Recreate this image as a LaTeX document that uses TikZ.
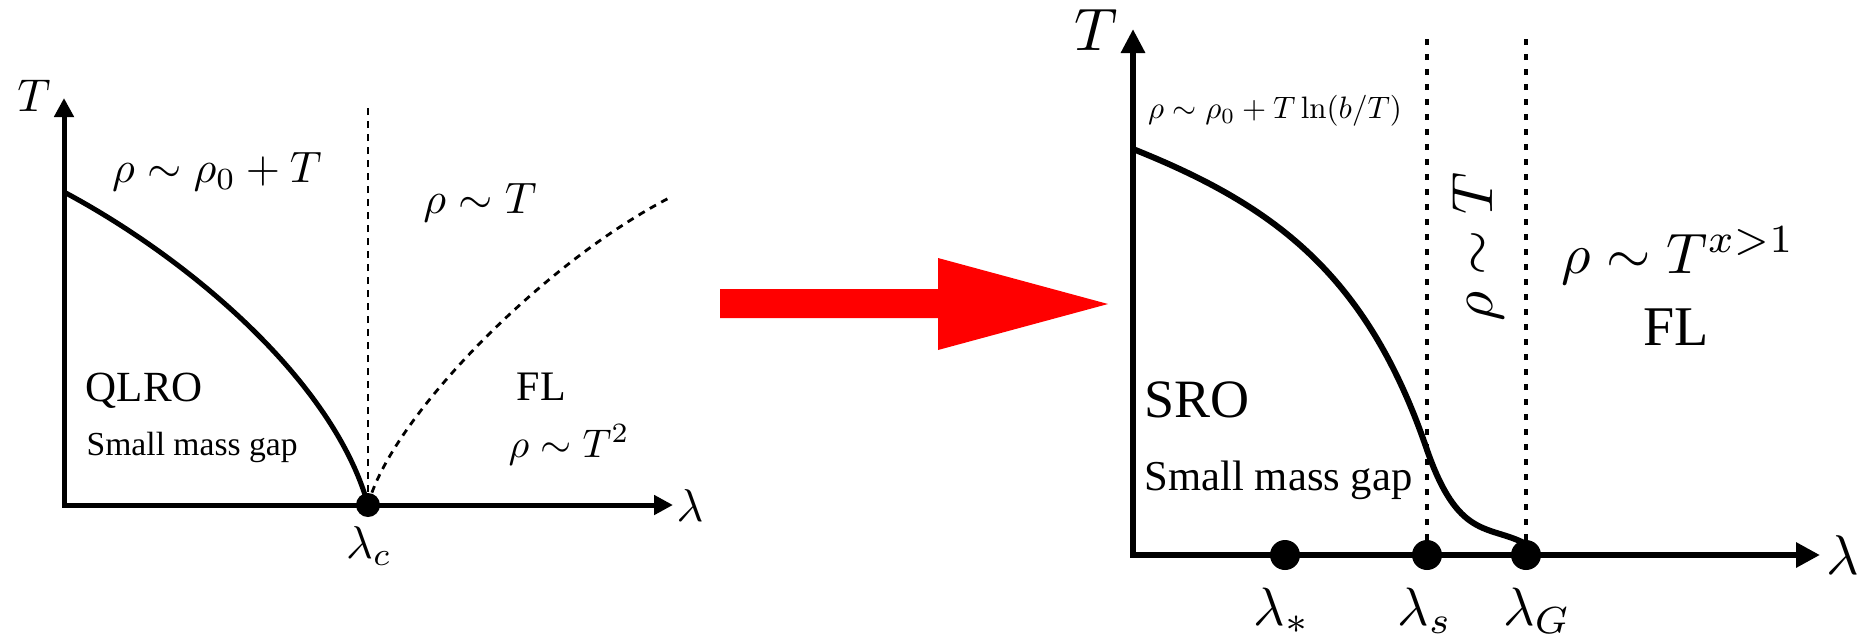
\documentclass[tikz,border=0pt]{standalone}
\usepackage[no-math]{fontspec}
\newfontfamily\tnr{Liberation Serif}
\usetikzlibrary{arrows.meta}
\begin{document}
\begin{tikzpicture}[x=0.5pt,y=-0.5pt,
  axisL/.style={line width=2.5pt,{Triangle[length=9.5pt,width=9.5pt]}-{Triangle[length=9.5pt,width=9.5pt]}},
  axisR/.style={line width=3.2pt,{Triangle[length=12pt,width=11.5pt]}-{Triangle[length=12pt,width=12pt]}},
  curveL/.style={line width=2.5pt},
  curveR/.style={line width=3pt},
  dashL/.style={line width=1.4pt,dash pattern=on 3.5pt off 3pt},
  dashR/.style={line width=1.7pt,dash pattern=on 3pt off 4.5pt},
  dotL/.style={circle,fill=black,minimum size=12pt,inner sep=0pt},
  dotR/.style={circle,fill=black,minimum size=15pt,inner sep=0pt},
  lab/.style={inner sep=0pt},
  txt/.style={inner sep=0pt,font=\tnr}]
\useasboundingbox (0,0) rectangle (1863,639);
% ---------------- left panel ----------------
\coordinate (O1) at (64,505);
\coordinate (T1) at (64,98);
\coordinate (X1) at (673,505);
\coordinate (cpos) at (368,505);
\coordinate (ctop) at (368,103);
\coordinate (c1) at (64,192);
\coordinate (cend) at (669,198);
\draw[axisL,line join=miter] (T1) -- (O1) -- (X1);
\draw[curveL] (c1) .. controls (195,262) and (335,385) .. (cpos);
\draw[dashL] (cpos) -- (ctop);
\draw[dashL] (cpos) .. controls (390,420) and (540,265) .. (cend);
\node[dotL] (c) at (cpos) {};
\node[lab,scale=2.3] (Tl) at (34,96) {$T$};
\node[lab,scale=2.3] (ll) at (690,506) {$\lambda$};
\node[lab,scale=2.3] (lc) at (369,546) {$\lambda_c$};
\node[lab,scale=2.2] (r1) at (217,172) {$\rho\sim\rho_0+T$};
\node[lab,scale=2.2] (r2) at (480,203) {$\rho\sim T$};
\node[txt,scale=2.15,anchor=base west] (qlro) at (85,401) {QLRO};
\node[txt,scale=1.68,anchor=base west] (smg1) at (86,455) {Small mass gap};
\node[txt,scale=2.1,anchor=base west] (fl1) at (516,400) {FL};
\node[lab,scale=2.0] (r3) at (569,445) {$\rho\sim T^2$};
% ---------------- red arrow ----------------
\fill[red] (720,289) -- (938,289) -- (938,258) -- (1108,304) -- (938,350) -- (938,318) -- (720,318) -- cycle;
% ---------------- right panel ----------------
\coordinate (O2) at (1133,555);
\coordinate (T2) at (1133,29);
\coordinate (X2) at (1820,555);
\coordinate (spos) at (1285,555);
\coordinate (lspos) at (1427,555);
\coordinate (gpos) at (1526,555);
\coordinate (lstop) at (1427,37);
\coordinate (gtop) at (1526,37);
\coordinate (r0) at (1133,149);
\coordinate (rmid) at (1426,447);
\coordinate (rend) at (1526,544);
\draw[axisR,line join=miter] (T2) -- (O2) -- (X2);
\draw[dashR] (lspos) -- (lstop);
\draw[dashR] (gpos) -- (gtop);
\draw[curveR] (r0) .. controls (1273,205) and (1366,273) .. (rmid)
  .. controls (1458,541) and (1488,524) .. (rend);
\node[dotR] (ds) at (spos) {};
\node[dotR] (dl) at (lspos) {};
\node[dotR] (dg) at (gpos) {};
\node[lab,scale=3.0] (Tr) at (1096,30) {$T$};
\node[lab,scale=2.8] (lr) at (1843,555) {$\lambda$};
\node[lab,scale=2.7,anchor=base] (lstar) at (1282,625) {$\lambda_*$};
\node[lab,scale=2.7,anchor=base] (lsl) at (1425,625) {$\lambda_s$};
\node[lab,scale=2.7,anchor=base] (lgl) at (1537,625) {$\lambda_G$};
\node[lab,scale=1.55] (r4) at (1275,111) {$\rho\sim\rho_0+T\ln(b/T)$};
\node[lab,scale=2.9,rotate=90] (r5) at (1478,247) {$\rho\sim T$};
\node[lab,scale=2.85] (r6) at (1678,256) {$\rho\sim T^{x>1}$};
\node[txt,scale=2.8,anchor=base] (fl2) at (1676,345) {FL};
\node[txt,scale=2.7,anchor=base west] (sro) at (1143,417) {SRO};
\node[txt,scale=2.13,anchor=base west] (smg2) at (1144,490) {Small mass gap};
\end{tikzpicture}
\end{document}
